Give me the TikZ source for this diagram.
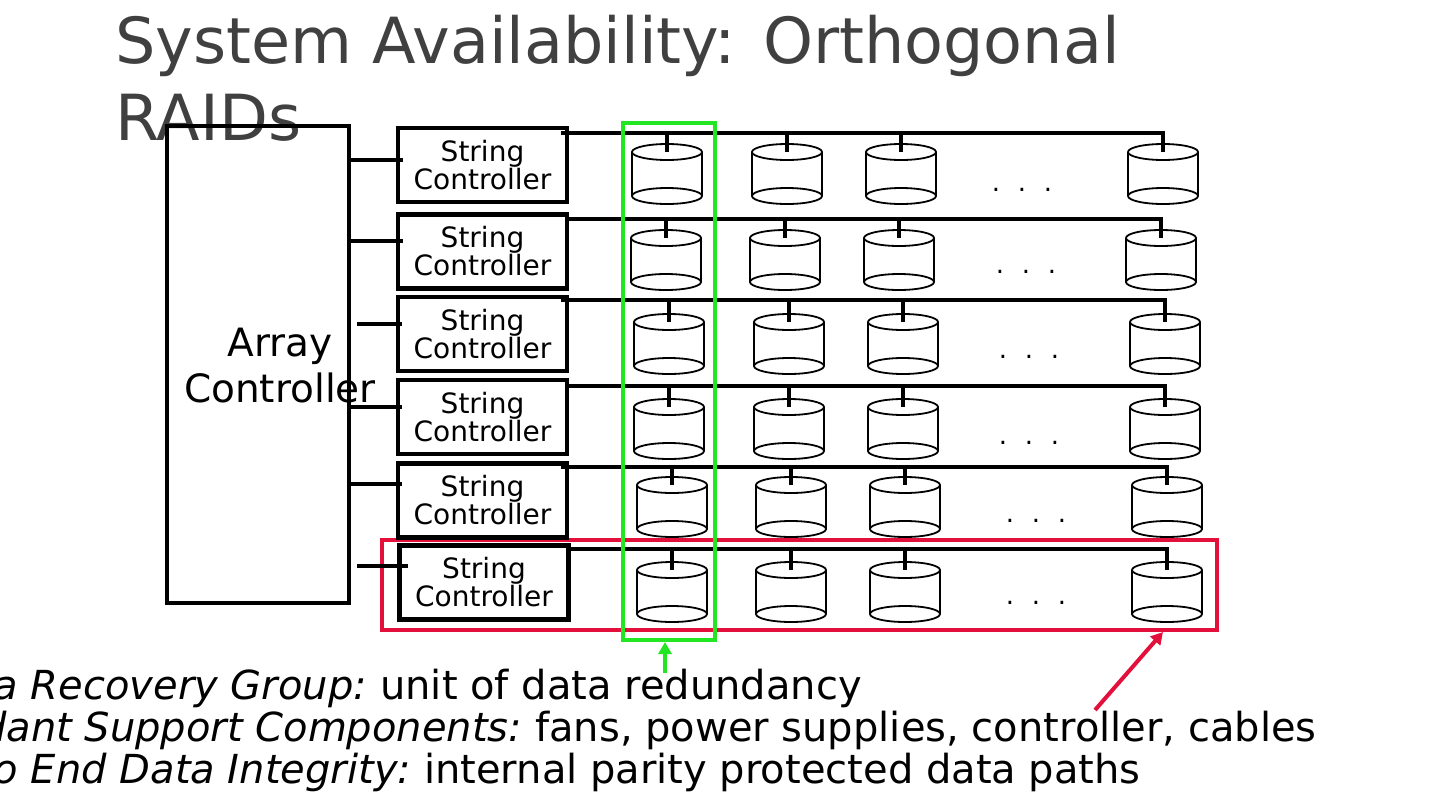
\documentclass[tikz,border=0pt]{standalone}
\usepackage{fontspec}
\setmainfont{DejaVu Sans}
\usetikzlibrary{arrows.meta,calc}
\definecolor{titlegray}{RGB}{64,64,64}
\definecolor{grpgreen}{RGB}{34,230,34}
\definecolor{grpred}{RGB}{228,16,60}
\begin{document}
\begin{tikzpicture}[x=1pt,y=-1pt,
  box/.style={draw=black,line width=4.5,inner sep=0pt},
  sctrl/.style={box,minimum width=169,minimum height=74,align=center,
    font=\fontsize{28}{28}\selectfont},
  conn/.style={line width=4},
  bus/.style={line width=4},
  disk/.pic={
    \draw[line width=1.8] (-35,0) -- (-35,44) (35,0) -- (35,44);
    \draw[line width=1.8] (0,0) ellipse[x radius=35,y radius=8];
    \draw[line width=1.8] (0,44) ellipse[x radius=35,y radius=8];
    \coordinate (-top) at (0,0);
  },
  dots/.style={anchor=base,inner sep=0pt,font=\fontsize{26}{26}\selectfont},
  btext/.style={inner sep=0pt,font=\fontsize{40}{42}\selectfont}
]
\useasboundingbox (0,0) rectangle (1440,811);
\clip (0,0) rectangle (1440,811);

% title
\node[anchor=base west,inner sep=0pt,align=left,text=titlegray,
  font=\fontsize{63.6}{77}\selectfont] (title) at (115,140)
  {System Availability: Orthogonal\\RAIDs};

% red group (string)
\node[draw=grpred,line width=4,minimum width=835,minimum height=90,inner sep=0pt]
  (rgp) at (799.5,585) {};

% array controller
\node[box,minimum width=182,minimum height=477] (ac) at (258,364.5) {};
\node[align=center,inner sep=0pt,font=\fontsize{39}{46}\selectfont] (acl)
  at (280,366) {Array\\Controller};

% string controllers
\node[sctrl] (sc1) at (482.5,165) {String\\Controller};
\node[sctrl] (sc2) at (482.5,251.5) {String\\Controller};
\node[sctrl] (sc3) at (482.5,334) {String\\Controller};
\node[sctrl] (sc4) at (482.5,417) {String\\Controller};
\node[sctrl] (sc5) at (482.5,500.5) {String\\Controller};
\node[sctrl] (sc6) at (484,582.5) {String\\Controller};

% array -> string connectors
\draw[conn] ([yshift=5]sc1.west -| ac.east) -- ([xshift=7,yshift=5]sc1.west);
\draw[conn] ([yshift=10.5]sc2.west -| ac.east) -- ([xshift=7,yshift=10.5]sc2.west);
\draw[conn] ([xshift=6,yshift=10]sc3.west -| ac.east) -- ([xshift=6,yshift=10]sc3.west);
\draw[conn] ([yshift=10]sc4.west -| ac.east) -- ([xshift=6,yshift=10]sc4.west);
\draw[conn] ([yshift=16.5]sc5.west -| ac.east) -- ([xshift=6,yshift=16.5]sc5.west);
\draw[conn] ([xshift=6,yshift=16.5]sc6.west -| ac.east) -- ([xshift=11,yshift=16.5]sc6.west);

% disks
\pic (d11) at (667,152) {disk}; \pic (d12) at (787,152) {disk};
\pic (d13) at (901,152) {disk}; \pic (d14) at (1163,152) {disk};
\pic (d21) at (666,238) {disk}; \pic (d22) at (785,238) {disk};
\pic (d23) at (899,238) {disk}; \pic (d24) at (1161,238) {disk};
\pic (d31) at (669,322) {disk}; \pic (d32) at (789,322) {disk};
\pic (d33) at (903,322) {disk}; \pic (d34) at (1165,322) {disk};
\pic (d41) at (669,407) {disk}; \pic (d42) at (789,407) {disk};
\pic (d43) at (903,407) {disk}; \pic (d44) at (1165,407) {disk};
\pic (d51) at (672,485) {disk}; \pic (d52) at (791,485) {disk};
\pic (d53) at (905,485) {disk}; \pic (d54) at (1167,485) {disk};
\pic (d61) at (672,570) {disk}; \pic (d62) at (791,570) {disk};
\pic (d63) at (905,570) {disk}; \pic (d64) at (1167,570) {disk};

% buses
\coordinate (b1) at ([xshift=-8,yshift=-7]sc1.north east);
\coordinate (b2) at ([xshift=-2,yshift=-7]sc2.north east);
\coordinate (b3) at ([xshift=-8,yshift=-5]sc3.north east);
\coordinate (b4) at ([xshift=-2,yshift=-8]sc4.north east);
\coordinate (b5) at ([xshift=-8,yshift=-6]sc5.north east);
\coordinate (b6) at ([xshift=-3,yshift=-6]sc6.north east);
\foreach \r in {1,...,6}{
  \draw[bus] (b\r) -| (d\r4-top);
  \foreach \c in {1,2,3}{
    \draw[bus] (d\r\c-top |- b\r) -- (d\r\c-top);
  }
}

% dots
\node[dots] (dt1) at (1022,191) {.\hspace{17.7pt}.\hspace{17.7pt}.};
\node[dots] (dt2) at (1026,273) {.\hspace{17.7pt}.\hspace{17.7pt}.};
\node[dots] (dt3) at (1029,358) {.\hspace{17.7pt}.\hspace{17.7pt}.};
\node[dots] (dt4) at (1029,444) {.\hspace{17.7pt}.\hspace{17.7pt}.};
\node[dots] (dt5) at (1036,522) {.\hspace{17.7pt}.\hspace{17.7pt}.};
\node[dots] (dt6) at (1036,604) {.\hspace{17.7pt}.\hspace{17.7pt}.};

% bottom text
\node[btext,anchor=base west] (l1b) at (380,699) {unit of data redundancy};
\node[btext,anchor=base east] (l1a) at ([xshift=-12.7]l1b.base west) {\itshape Data Recovery Group:};
\node[btext,anchor=base west] (l2b) at (535,741) {fans, power supplies, controller, cables};
\node[btext,anchor=base east] (l2a) at ([xshift=-12.7]l2b.base west) {\itshape Redundant Support Components:};
\node[btext,anchor=base west] (l3b) at (424,783) {internal parity protected data paths};
\node[btext,anchor=base east] (l3a) at ([xshift=-12.7]l3b.base west) {\itshape End to End Data Integrity:};

% green group (column)
\node[draw=grpgreen,line width=4,minimum width=92,minimum height=517,inner sep=0pt]
  (ggp) at (669,381.5) {};

% arrows
\coordinate (ga) at (665,673);
\draw[grpgreen,line width=4,-{Triangle[length=12,width=13]}] (ga) -- (ga |- ggp.south);
\coordinate (ra) at (1095,710);
\draw[grpred,line width=4,-{Triangle[length=12,width=13]}] (ra) -- ([xshift=363.5]rgp.south);
\end{tikzpicture}
\end{document}
